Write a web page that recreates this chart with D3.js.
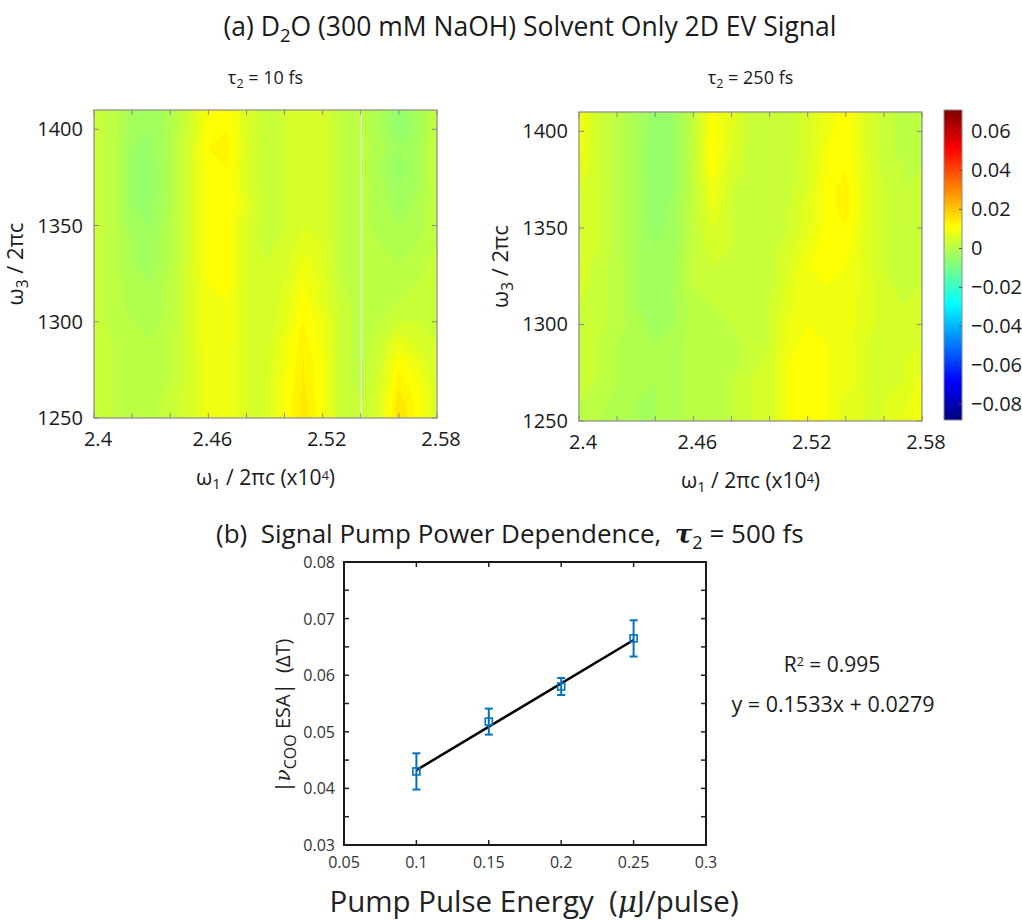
<!DOCTYPE html>
<html>
<head>
<meta charset="utf-8">
<script src="https://cdn.jsdelivr.net/npm/d3@7"></script>
<style>
  body { margin: 0; background: #fff; }
  text { font-family: "Open Sans", "Noto Sans", sans-serif; fill: #1a1a1a; }
</style>
</head>
<body>
<svg id="fig" width="1022" height="920"></svg>
<script>
// ---- 2D EV maps: grid coordinates ----
const omega1 = [2.40, 2.41, 2.42, 2.43, 2.44, 2.45, 2.46, 2.47, 2.48, 2.49,
                2.50, 2.51, 2.52, 2.53, 2.54, 2.55, 2.56, 2.57, 2.58];      // x10^4 cm^-1
const omega3 = [1410, 1400, 1390, 1380, 1370, 1360, 1350, 1340, 1330,
                1320, 1310, 1300, 1290, 1280, 1270, 1260, 1250];            // cm^-1, rows top→bottom

// Signal in units of 1e-3 (ΔT); one row per omega3 value, one column per omega1 value
const signal10fs = [
  [3, 1, -3, -4, -1, 4, 11, 12, 6, 3,  4,  5,  5, 2, 1, -2, -5, -3, 2],
  [3, 1, -3, -4, -1, 4, 11, 12, 6, 2,  4,  5,  5, 2, 1, -2, -6, -3, 2],
  [3, 1, -4, -4, -1, 5, 12, 13, 6, 3,  4,  5,  5, 2, 1, -1, -4, -2, 2],
  [3, 1, -4, -5, -1, 5, 11, 12, 6, 3,  4,  5,  5, 2, 1, -2, -5, -2, 2],
  [3, 1, -4, -5, -1, 5, 11, 12, 6, 3,  4,  5,  5, 2, 1, -1, -4, -2, 2],
  [3, 1, -4, -4, -1, 5, 11, 12, 7, 3,  4,  6,  5, 2, 1, -1, -3, -1, 2],
  [3, 1, -3, -4,  0, 5, 11, 11, 6, 3,  4,  6,  5, 2, 1, -1, -2, -1, 2],
  [3, 1, -2, -3,  0, 5, 11, 11, 6, 3,  5,  7,  6, 2, 1,  0, -1,  0, 2],
  [3, 1, -2, -3,  0, 5, 11, 11, 6, 4,  5,  9,  6, 2, 1,  0,  0,  1, 3],
  [3, 1, -1, -2,  1, 5, 10, 11, 6, 4,  6, 10,  7, 2, 1,  1,  1,  2, 3],
  [3, 1, -1, -2,  1, 5, 10, 10, 6, 4,  7, 11,  7, 3, 1,  1,  2,  3, 3],
  [3, 1,  0, -1,  1, 5, 10, 10, 6, 4,  7, 12,  9, 3, 1,  2,  4,  4, 4],
  [3, 2,  0,  0,  2, 5, 10, 10, 6, 5,  9, 13,  9, 3, 1,  3,  8,  5, 4],
  [3, 2,  1,  0,  2, 5,  9,  9, 6, 5,  9, 14, 10, 3, 1,  4, 11,  8, 4],
  [3, 2,  1,  1,  2, 5,  9,  9, 6, 5, 10, 14, 10, 3, 1,  5, 13, 10, 5],
  [3, 2,  1,  1,  3, 5,  9,  9, 6, 5, 10, 15, 10, 3, 2,  6, 15, 11, 5],
  [3, 2,  1,  1,  3, 5,  9,  9, 6, 5, 10, 15, 10, 3, 2,  6, 16, 11, 5]
];

const signal250fs = [
  [10, 4,  1, -2, -5, -4, 2, 11, 7, 3, 2,  3,  5,  9, 11, 6, 3, 1,  2],
  [10, 4,  1, -2, -5, -4, 2, 11, 7, 3, 2,  3,  5,  9, 12, 6, 3, 1,  2],
  [ 9, 4,  1, -2, -6, -4, 2, 12, 6, 3, 2,  3,  5, 10, 12, 6, 3, 1,  2],
  [ 8, 4,  1, -2, -6, -4, 2, 11, 5, 3, 2,  3,  6, 10, 12, 7, 3, 2,  2],
  [ 6, 4,  1, -2, -5, -4, 2,  9, 4, 3, 2,  3,  6, 11, 13, 7, 4, 2,  3],
  [ 6, 4,  1, -2, -6, -3, 2,  8, 4, 3, 2,  4,  7, 11, 13, 7, 4, 2,  3],
  [ 5, 4,  1, -2, -5, -3, 2,  6, 4, 3, 2,  4,  7, 11, 12, 7, 4, 2,  3],
  [ 5, 4,  1, -2, -4, -3, 2,  5, 4, 3, 3,  5,  9, 11, 11, 7, 4, 3,  3],
  [ 5, 3,  1, -2, -4, -2, 2,  4, 4, 3, 3,  6, 10, 11, 10, 7, 4, 3,  4],
  [ 5, 3,  1, -2, -4, -2, 2,  3, 3, 3, 3,  7, 10, 10, 10, 7, 5, 3,  4],
  [ 4, 3,  1, -2, -4, -2, 1,  2, 3, 3, 4,  7, 10, 10,  9, 7, 5, 4,  5],
  [ 4, 3,  1, -1, -3, -2, 1,  1, 2, 3, 4,  9, 10, 10,  9, 7, 5, 4,  5],
  [ 4, 2,  0, -1, -2, -1, 1,  0, 1, 3, 4,  9, 11, 10,  9, 6, 5, 5,  6],
  [ 3, 2,  0, -1, -2, -1, 1,  0, 1, 3, 5, 10, 12, 10,  9, 6, 5, 6,  7],
  [ 3, 2,  0, -1, -2, -1, 1,  1, 2, 4, 5, 10, 12, 10,  9, 6, 6, 6,  9],
  [ 2, 1, -1, -2, -2, -1, 1,  1, 2, 4, 5, 10, 12, 10,  7, 6, 6, 7, 10],
  [ 2, 0, -1, -2, -2, -1, 1,  1, 2, 4, 5, 10, 12, 10,  7, 6, 6, 7, 11]
];
const signalUnit = 1e-3;
const gapOmega1 = 2.5403;   // missing column in the 10 fs scan

const omega1Ticks = [2.40, 2.46, 2.52, 2.58];
const omega1Minor = [2.42, 2.44, 2.48, 2.50, 2.54, 2.56];
const omega3Ticks = [1250, 1300, 1350, 1400];
const colorRange = [-0.088, 0.071];
const colorTicks = [0.06, 0.04, 0.02, 0, -0.02, -0.04, -0.06, -0.08];

// ---- pump power dependence ----
const pumpEnergy = [0.10, 0.15, 0.20, 0.25];          // µJ/pulse
const esaAmplitude = [0.0430, 0.0518, 0.0580, 0.0665];
const esaError = [0.0032, 0.0023, 0.0015, 0.0032];
const fitSlope = 0.1533, fitIntercept = 0.0279, fitR2 = 0.995;
const energyTicks = [0.05, 0.1, 0.15, 0.2, 0.25, 0.3];
const esaTicks = [0.03, 0.04, 0.05, 0.06, 0.07, 0.08];
const esaMinor = [0.035, 0.045, 0.055, 0.065, 0.075];

const svg = d3.select("#fig");
const NBSP = "\u00a0";

// MATLAB "jet" colormap
function jet(t) {
  const c = v => Math.max(0, Math.min(1, v));
  return d3.rgb(255 * c(1.5 - Math.abs(4 * t - 3)),
                255 * c(1.5 - Math.abs(4 * t - 2)),
                255 * c(1.5 - Math.abs(4 * t - 1))).toString();
}
const colorOf = v => jet((v - colorRange[0]) / (colorRange[1] - colorRange[0]));

// helper: text with subscript / superscript parts
function richText(sel, parts) {
  parts.forEach(p => {
    const t = sel.append("tspan").text(p.t);
    if (p.sub) t.attr("dy", p.dy || "0.3em").attr("font-size", p.size || "0.7em");
    if (p.sup) t.attr("dy", p.dy || "-0.45em").attr("font-size", p.size || "0.6em");
    if (p.back) t.attr("dy", p.back);
    if (p.style) Object.entries(p.style).forEach(([k, v]) => t.attr(k, v));
  });
  return sel;
}

// ---------- (a) title ----------
richText(svg.append("text").attr("x", 530).attr("y", 36).attr("text-anchor", "middle")
  .attr("font-size", 26.5),
  [{t: "(a) D"}, {t: "2", sub: true}, {t: "O (300 mM NaOH) Solvent Only 2D EV Signal", back: "-0.21em"}]);

// ---------- 2D maps ----------
const levelStep = 0.002;
const levels = d3.range(-0.03, 0.034, levelStep);

const panels = [
  {rows: signal10fs, tau: "10", left: 94, right: 437, top: 110, bottom: 418, gap: gapOmega1},
  {rows: signal250fs, tau: "250", left: 579, right: 922, top: 112, bottom: 421, gap: null}
];

panels.forEach((p, k) => {
  const x = d3.scaleLinear().domain([2.40, 2.58]).range([p.left, p.right]);
  const y = d3.scaleLinear().domain([1250, 1410]).range([p.bottom, p.top]);
  const g = svg.append("g");
  const nx = omega1.length, ny = omega3.length;
  const values = [];
  p.rows.forEach(r => r.forEach(v => values.push(v * signalUnit)));

  const clipId = "clip" + k;
  svg.append("clipPath").attr("id", clipId).append("rect")
    .attr("x", p.left).attr("y", p.top).attr("width", p.right - p.left).attr("height", p.bottom - p.top);

  const gx = d3.scaleLinear().domain([0, nx - 1]).range([omega1[0], omega1[nx - 1]]);
  const gy = d3.scaleLinear().domain([0, ny - 1]).range([omega3[0], omega3[ny - 1]]);
  const proj = d3.geoTransform({
    point(px, py) { this.stream.point(x(gx(px - 0.5)), y(gy(py - 0.5))); }
  });
  const path = d3.geoPath(proj);
  const contours = d3.contours().size([nx, ny]).thresholds(levels)(values);

  const m = g.append("g").attr("clip-path", `url(#${clipId})`);
  m.selectAll("path").data(contours).join("path")
    .attr("d", path)
    .attr("fill", d => colorOf(d.value + levelStep / 2))
    .attr("stroke", d => colorOf(d.value + levelStep / 2))
    .attr("stroke-width", 0.4);

  if (p.gap !== null) {
    m.append("line").attr("x1", x(p.gap)).attr("x2", x(p.gap))
      .attr("y1", p.top).attr("y2", p.bottom)
      .attr("stroke", "#f4f8f0").attr("stroke-width", 1.2);
  }

  // frame and ticks
  const axisColor = "#8a8a8a";
  g.append("rect").attr("x", p.left).attr("y", p.top)
    .attr("width", p.right - p.left).attr("height", p.bottom - p.top)
    .attr("fill", "none").attr("stroke", axisColor).attr("stroke-width", 1.2);
  const tl = 5;
  omega1Ticks.concat(omega1Minor).forEach(v => {
    g.append("line").attr("x1", x(v)).attr("x2", x(v)).attr("y1", p.bottom).attr("y2", p.bottom - tl)
      .attr("stroke", axisColor);
    g.append("line").attr("x1", x(v)).attr("x2", x(v)).attr("y1", p.top).attr("y2", p.top + tl)
      .attr("stroke", axisColor);
  });
  omega3Ticks.forEach(v => {
    g.append("line").attr("x1", p.left).attr("x2", p.left + tl).attr("y1", y(v)).attr("y2", y(v))
      .attr("stroke", axisColor);
    g.append("line").attr("x1", p.right).attr("x2", p.right - tl).attr("y1", y(v)).attr("y2", y(v))
      .attr("stroke", axisColor);
  });
  g.selectAll("text.xt").data(omega1Ticks).join("text").attr("class", "xt")
    .attr("x", d => x(d) + 4).attr("y", p.bottom + 28).attr("text-anchor", "middle")
    .attr("font-size", 20).text(d => d3.format(".3~f")(d));
  g.selectAll("text.yt").data(omega3Ticks).join("text").attr("class", "yt")
    .attr("x", p.left - 11).attr("y", d => y(d) + 7).attr("text-anchor", "end")
    .attr("font-size", 20).text(d => d);

  // axis titles
  const cx = (p.left + p.right) / 2;
  richText(g.append("text").attr("x", cx).attr("y", p.bottom + 67).attr("text-anchor", "middle")
    .attr("font-size", 21),
    [{t: "ω"}, {t: "1", sub: true}, {t: " / 2πc (x10", back: "-0.21em"}, {t: "4", sup: true, dy: "-0.4em"},
     {t: ")", back: "0.24em"}]);
  richText(g.append("text")
    .attr("transform", `translate(${p.left - 71},${(p.top + p.bottom) / 2}) rotate(-90)`)
    .attr("text-anchor", "middle").attr("font-size", 22),
    [{t: "ω"}, {t: "3", sub: true}, {t: " / 2πc", back: "-0.21em"}]);
  richText(g.append("text").attr("x", cx).attr("y", 84).attr("text-anchor", "middle")
    .attr("font-size", 18),
    [{t: "τ"}, {t: "2", sub: true}, {t: " = " + p.tau + " fs", back: "-0.21em"}]);
});

// ---------- colorbar ----------
{
  const cb = {left: 944, right: 962, top: 110, bottom: 420};
  const cy = d3.scaleLinear().domain(colorRange).range([cb.bottom, cb.top]);
  const grad = svg.append("defs").append("linearGradient").attr("id", "jetgrad")
    .attr("x1", 0).attr("x2", 0).attr("y1", 1).attr("y2", 0);
  d3.range(0, 1.0001, 1 / 64).forEach(t => {
    grad.append("stop").attr("offset", t).attr("stop-color", jet(t));
  });
  svg.append("rect").attr("x", cb.left).attr("y", cb.top)
    .attr("width", cb.right - cb.left).attr("height", cb.bottom - cb.top)
    .attr("fill", "url(#jetgrad)").attr("stroke", "#8a8a8a").attr("stroke-width", 1);
  colorTicks.forEach(v => {
    svg.append("line").attr("x1", cb.right).attr("x2", cb.right - 3).attr("y1", cy(v)).attr("y2", cy(v))
      .attr("stroke", "#555");
    svg.append("text").attr("x", cb.right + 9).attr("y", cy(v) + 7).attr("font-size", 20)
      .text(v === 0 ? "0" : d3.format(".2f")(v));
  });
}

// ---------- (b) pump power dependence ----------
richText(svg.append("text").attr("x", 216).attr("y", 543).attr("font-size", 26),
  [{t: "(b)" + NBSP + " Signal Pump Power Dependence," + NBSP + " "},
   {t: "τ", style: {"font-family": "DejaVu Serif", "font-weight": "bold", "font-style": "italic"}},
   {t: "2", sub: true, dy: "0.35em"}, {t: " = 500 fs", back: "-0.245em"}]);

{
  const b = {left: 344, right: 706, top: 562, bottom: 845};
  const x = d3.scaleLinear().domain([0.05, 0.3]).range([b.left, b.right]);
  const y = d3.scaleLinear().domain([0.03, 0.08]).range([b.bottom, b.top]);
  const g = svg.append("g");
  const tl = 5;
  energyTicks.forEach(v => {
    g.append("line").attr("x1", x(v)).attr("x2", x(v)).attr("y1", b.bottom).attr("y2", b.bottom - tl)
      .attr("stroke", "#222").attr("stroke-width", 1.5);
    g.append("line").attr("x1", x(v)).attr("x2", x(v)).attr("y1", b.top).attr("y2", b.top + tl)
      .attr("stroke", "#222").attr("stroke-width", 1.5);
  });
  esaTicks.concat(esaMinor).forEach(v => {
    g.append("line").attr("x1", b.left).attr("x2", b.left + tl).attr("y1", y(v)).attr("y2", y(v))
      .attr("stroke", "#222").attr("stroke-width", 1.5);
    g.append("line").attr("x1", b.right).attr("x2", b.right - tl).attr("y1", y(v)).attr("y2", y(v))
      .attr("stroke", "#222").attr("stroke-width", 1.5);
  });
  g.append("rect").attr("x", b.left).attr("y", b.top).attr("width", b.right - b.left)
    .attr("height", b.bottom - b.top).attr("fill", "none").attr("stroke", "#1a1a1a").attr("stroke-width", 2);

  g.selectAll("text.xt").data(energyTicks).join("text").attr("class", "xt")
    .attr("x", d => x(d)).attr("y", b.bottom + 23).attr("text-anchor", "middle")
    .attr("font-size", 16).style("fill", "#333").text(d => d3.format("~g")(d));
  g.selectAll("text.yt").data(esaTicks).join("text").attr("class", "yt")
    .attr("x", b.left - 9).attr("y", d => y(d) + 6).attr("text-anchor", "end")
    .attr("font-size", 16).style("fill", "#333").text(d => d3.format(".2f")(d));

  // linear fit
  const fx = [pumpEnergy[0], pumpEnergy[pumpEnergy.length - 1]];
  g.append("line").attr("x1", x(fx[0])).attr("y1", y(fitSlope * fx[0] + fitIntercept))
    .attr("x2", x(fx[1])).attr("y2", y(fitSlope * fx[1] + fitIntercept))
    .attr("stroke", "#000").attr("stroke-width", 2.5);

  // data with error bars
  const blue = "#0072BD";
  pumpEnergy.forEach((e, i) => {
    const px = x(e), y0 = y(esaAmplitude[i] - esaError[i]), y1 = y(esaAmplitude[i] + esaError[i]);
    g.append("line").attr("x1", px).attr("x2", px).attr("y1", y0).attr("y2", y1)
      .attr("stroke", blue).attr("stroke-width", 2);
    [y0, y1].forEach(yy => g.append("line").attr("x1", px - 4).attr("x2", px + 4)
      .attr("y1", yy).attr("y2", yy).attr("stroke", blue).attr("stroke-width", 2));
    g.append("rect").attr("x", px - 3.5).attr("y", y(esaAmplitude[i]) - 3.5)
      .attr("width", 7).attr("height", 7).attr("fill", "none")
      .attr("stroke", blue).attr("stroke-width", 1.6);
  });

  // axis titles
  richText(svg.append("text").attr("x", (b.left + b.right) / 2 + 9).attr("y", 912)
    .attr("text-anchor", "middle").attr("font-size", 29.5).style("fill", "#222"),
    [{t: "Pump Pulse Energy" + NBSP + NBSP + "("},
     {t: "μ", style: {"font-family": "DejaVu Serif", "font-style": "italic"}},
     {t: "J/pulse)"}]);
  richText(svg.append("text")
    .attr("transform", `translate(${b.left - 54},${(b.top + b.bottom) / 2 + 12}) rotate(-90)`)
    .attr("text-anchor", "middle").attr("font-size", 20).style("fill", "#222"),
    [{t: "|"}, {t: "ν", style: {"font-family": "DejaVu Serif", "font-style": "italic"}},
     {t: "COO", sub: true, dy: "0.35em", size: "0.8em"}, {t: " ESA|" + NBSP + NBSP + "(ΔT)", back: "-0.28em"}]);

  // fit statistics
  richText(svg.append("text").attr("x", 832).attr("y", 672).attr("text-anchor", "middle")
    .attr("font-size", 21),
    [{t: "R"}, {t: "2", sup: true}, {t: " = " + fitR2, back: "0.27em"}]);
  svg.append("text").attr("x", 833).attr("y", 712).attr("text-anchor", "middle")
    .attr("font-size", 21.5).text(`y = ${fitSlope}x + ${fitIntercept}`);
}
</script>
</body>
</html>
